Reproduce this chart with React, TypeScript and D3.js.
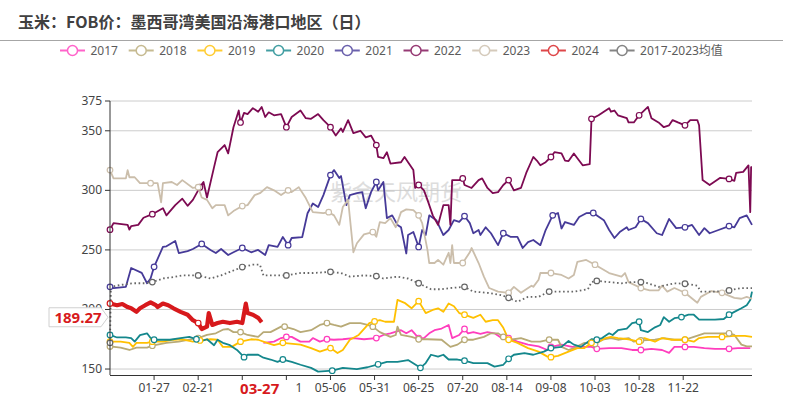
import React from "react";
import * as d3 from "d3";

type Pt = [number, number]; // [day of year (0 = 01-01), price]

// x-axis tick labels, one every 25 days from day 25
const xLabels = ["01-27", "02-21", "03-17", "04-11", "05-06", "05-31", "06-25", "07-20", "08-14", "09-08", "10-03", "10-28", "11-22"];
const yTicks = [150, 200, 250, 300, 350, 375];

const s2017: Pt[] = [[87,172],[93,173],[97,176],[100,177],[103,177],[108,173],[113,173],[115,176],[119,173],[123,175],[127,174.6],[132,175],[138,176],[144,175],[151,176],[155,178.6],[159,180],[165,182.6],[168,180],[171,182.6],[175,176],[178,176],[181,180],[184,182.6],[188,184],[192,187],[194,176],[198,178.6],[201,183.6],[203,180],[206,181],[210,179.5],[214,181],[218,180],[222,176],[226,176],[231,173],[237,170.5],[243,169],[248,166],[250,168.6],[256,170.5],[262,168.6],[267,168.6],[273,168.6],[276,167],[283,167.6],[290,167.6],[296,166],[301,166],[307,167],[313,166],[317,163.6],[320,168.6],[326,168.6],[331,168.6],[337,167.6],[343,167],[351,167],[356,167.6],[363,167.6]];

const s2018: Pt[] = [[0,169],[6,168],[11,166],[15,168],[21,168],[24,169.6],[32,172],[39,173],[45,174.6],[50,176],[55,178.6],[60,180],[64,183],[67,183.6],[70,181],[74,181],[78,178.6],[84,177],[87,181],[91,181],[97,185.6],[99,185.6],[104,183.6],[108,181],[114,182.6],[119,187],[123,188.6],[127,187],[131,185.6],[136,188.6],[142,188.6],[146,187],[149,185.6],[153,181],[159,177],[162,178.6],[163,185.6],[165,178.6],[171,177],[175,175],[180,175],[188,174.6],[193,168.6],[197,170.5],[201,174.6],[206,174.6],[212,177],[216,180],[220,180],[223,177],[227,174.6],[233,176],[239,173],[244,173],[249,174.6],[254,174.6],[256,168.6],[260,166],[263,167.6],[269,172],[275,171],[280,175],[284,176],[288,174.6],[294,176],[297,173],[301,174],[309,174.6],[314,176],[320,174.6],[326,174.6],[331,177],[337,180],[343,180],[351,180],[354,178.6],[358,170.5],[361,169],[364,169]];

const s2019: Pt[] = [[0,173],[6,173],[11,172],[13,168.6],[15,172],[21,172],[24,173],[30,173],[36,174.6],[41,175],[47,173],[51,174],[57,175],[61,174.6],[64,168.6],[69,168.6],[74,173],[80,175],[84,174.6],[89,172],[93,170],[98,172],[108,170.5],[114,167.6],[119,164.6],[125,167.6],[129,163.4],[132,166],[136,174.6],[141,178.6],[147,188.6],[150,190],[153,191],[156,189.7],[161,189.7],[163,208],[167,205.6],[171,201],[175,207],[179,197],[183,199.6],[186,201],[189,198],[192,205],[195,202.7],[198,197],[201,195.6],[204,194],[206,193],[210,195.6],[213,189.7],[217,191],[220,191],[223,184.6],[226,174.6],[231,172],[237,167.6],[243,164.6],[248,160.4],[250,160],[254,161],[260,164.6],[265,167.6],[269,167.6],[273,172],[277,173],[281,176],[284,177],[288,176],[294,175],[300,173],[303,176],[309,173],[313,176],[318,174.6],[326,174.6],[331,173],[334,176],[339,177],[347,177],[354,177.8],[360,177.8],[364,177]];

const s2020: Pt[] = [[0,178.6],[4,176.5],[9,176.5],[12,176],[14,173],[17,178.5],[21,180],[23,176],[25,174.6],[30,174.6],[34,174.6],[40,176],[45,177],[49,175],[51,173],[55,175],[59,170],[61,174.6],[64,172],[68,170],[72,166],[76,160],[78,162],[84,162],[87,159.5],[91,158],[95,156],[98,158],[103,156],[108,153.6],[114,151],[118,147.8],[126,148.6],[132,151],[140,150],[146,151.5],[152,154],[157,156],[163,156],[169,157.5],[176,151],[179,155],[182,162],[186,160.4],[189,162],[192,158],[197,158],[201,157],[206,155],[214,155],[218,152],[223,153.6],[226,158.6],[229,162],[235,163.4],[240,162],[246,164.6],[250,167.6],[256,168.6],[260,173.6],[263,170.5],[267,168.6],[273,175],[276,174.6],[279,176],[283,180],[285,178.6],[288,182.6],[293,184],[296,188.6],[300,189.7],[301,182.6],[305,181],[309,185],[312,187],[314,193.6],[317,189.7],[320,192.7],[324,193.6],[328,195.6],[331,195.6],[334,191.5],[339,191.5],[343,191.5],[348,192],[351,195.6],[354,198],[358,201],[361,203.6],[363,208],[364,215]];

const s2021: Pt[] = [[0,219],[2,218],[9,219],[12,234.8],[18,230.7],[21,222],[23,226],[25,235.8],[30,252.5],[32,253],[37,257.5],[39,247.4],[44,249],[47,250.8],[52,255],[57,250],[60,247.4],[63,250.8],[67,245.7],[70,248],[75,251.6],[80,248],[84,250],[88,245.7],[90,254],[95,252.5],[98,260.8],[101,254],[103,260],[109,260.8],[112,280.8],[115,289],[118,286],[121,296],[125,312.8],[127,317],[130,310.4],[131,312],[134,287.6],[136,296],[140,297.6],[143,298.5],[145,285],[148,298.5],[151,307],[152,300],[155,307],[157,276.7],[160,279],[163,271],[165,269],[168,247],[169,262.5],[172,265],[175,252.5],[177,266.7],[179,262.5],[181,279],[185,275],[189,262.5],[192,266.7],[195,275],[198,273.5],[201,278.4],[204,272.5],[206,264],[209,266.7],[210,262.5],[213,269],[216,264],[220,254],[223,264],[227,261],[231,261],[234,251.6],[237,256.6],[240,258.3],[244,254],[247,266.7],[251,279],[254,281],[256,268],[258,273.4],[263,271],[266,277.6],[270,280.8],[274,281],[280,275],[283,266.7],[286,260],[289,265],[293,269],[294,266.7],[298,269],[301,276],[305,272.5],[310,264],[313,262.5],[317,276],[321,268.3],[326,269],[330,271],[334,262.5],[337,268.3],[340,264],[345,266.7],[351,270],[354,269],[357,276.7],[361,279],[364,271]];

const s2022: Pt[] = [[0,267],[2,272.5],[10,271],[11,267],[12,270],[16,271],[19,277],[24,280],[30,285],[32,279],[37,287.6],[41,293],[44,287],[47,292],[51,302.7],[53,307],[55,294],[59,319.5],[61,332],[65,338],[67,331],[70,353],[73,367],[74,357],[76,365],[78,364],[81,369],[84,366],[86,370],[88,361.6],[90,365.5],[93,363],[97,364],[100,353],[103,361.6],[108,367],[111,360.6],[114,360],[118,364],[121,359],[125,353],[128,346],[131,352],[132,349],[135,359],[138,348],[142,350],[145,344.5],[148,346],[151,338],[152,328],[155,327],[157,332],[159,322.5],[165,323.6],[167,328],[169,323.6],[172,317],[173,302],[175,304.5],[178,300],[180,292],[183,279],[186,271],[189,287.6],[192,287.6],[193,271],[194,308.6],[198,308.6],[200,310],[201,304.5],[205,302],[209,308.6],[211,310],[214,302],[217,297.6],[220,298.5],[223,304.5],[226,308.6],[229,300],[233,302],[236,314.6],[240,328],[242,325],[244,321],[247,323.6],[250,328],[252,332],[256,331],[258,325],[260,324.6],[263,331],[265,327],[268,321],[272,322],[273,360],[277,363],[283,369],[284,366],[286,367],[288,363],[293,360.6],[294,357],[297,357],[300,363],[305,370],[307,360.6],[311,357],[314,353],[317,354.6],[319,359],[322,357],[326,354.6],[329,359],[333,359],[334,354.6],[336,308.6],[340,304.5],[346,310.5],[351,309.6],[354,308],[355,314.6],[359,315.5],[362,321],[363,281.7],[363.5,319.5],[364,319.5]];

const s2023: Pt[] = [[0,317],[2,310],[9,310],[10,317],[11,311],[14,311],[17,306],[23,306],[27,306],[29,290],[30,306],[35,307],[38,304.5],[41,308.6],[47,302],[50,302.7],[52,294],[55,292],[58,285],[60,287.6],[63,287.6],[65,287.6],[67,279],[70,282.6],[75,286.8],[78,287.6],[82,296],[85,297.6],[89,302.7],[93,300],[97,296],[101,300],[103,298.5],[107,302.7],[111,293.5],[115,281.7],[121,280.8],[124,281.7],[127,279],[130,271],[132,286],[135,292],[138,248],[140,255.6],[144,263],[149,265],[151,261],[153,273.4],[156,272.5],[159,276.7],[162,269],[165,281.7],[168,284],[172,283.4],[175,279],[177,272.5],[180,250],[181,239],[184,239],[186,241.6],[189,237.6],[192,247.6],[193,239],[194,254],[195,239],[200,239],[204,248],[205,251.6],[209,239],[212,227.6],[215,218],[220,215],[226,214],[229,219],[233,214],[239,220],[240,219],[243,225],[244,230.6],[250,230.6],[256,229],[260,226],[263,229],[265,240],[270,241.6],[275,237.6],[283,230.6],[290,227.6],[292,230.6],[294,223],[301,218],[306,216],[311,216],[313,220],[316,215],[320,218],[326,214],[333,205.6],[335,210.6],[341,215.5],[347,214],[354,209.8],[358,209],[361,210.6],[364,209]];

const s2024: Pt[] = [[0,205],[4,203.6],[7,204.6],[10,202],[12,201],[15,198],[17,201],[20,203.6],[23,206],[26,203.6],[27,202],[30,205],[33,203.6],[36,201],[40,198],[44,195.6],[47,191],[50,188.6],[52,183.6],[55,185.6],[56,197],[58,187],[61,188.6],[64,189.7],[68,188.6],[72,189.7],[75,188.6],[77,205],[78,197],[81,195.6],[84,193],[86,189.27]];

const sMean: Pt[] = [[0,172],[0.5,219],[6,220.6],[13,222],[20,222],[24,223],[30,226],[35,227],[41,228.6],[50,228.6],[57,226],[63,228.6],[68,231.6],[75,235.6],[81,237.6],[85,237.6],[87,228.6],[93,228.6],[100,228.6],[108,230.6],[115,230.6],[125,231.6],[131,230.6],[136,227.6],[144,228.6],[151,228],[155,226],[163,227.6],[169,226],[175,222],[182,217],[188,217],[193,218],[201,219],[206,215],[214,214],[222,212],[226,209.8],[231,206.5],[237,210.6],[243,210.6],[249,215],[256,215],[263,215],[271,217],[273,223],[276,224],[283,223],[290,222],[296,223],[301,223],[305,222],[311,219],[320,222],[326,221.6],[333,220],[335,215],[343,215],[351,216],[358,218],[364,218]];

const LATEST_DAY = 86;
const LATEST_LABEL = "03-27";
const LATEST_VALUE = 189.27;

const series = [
  { name: "2017", data: s2017, color: "#ff3dbd", width: 1.8, dash: "", marks: 25 },
  { name: "2018", data: s2018, color: "#b8aa76", width: 1.8, dash: "", marks: 25 },
  { name: "2019", data: s2019, color: "#ffc000", width: 1.8, dash: "", marks: 25 },
  { name: "2020", data: s2020, color: "#14878c", width: 1.8, dash: "", marks: 25 },
  { name: "2021", data: s2021, color: "#463a98", width: 1.8, dash: "", marks: 25 },
  { name: "2022", data: s2022, color: "#7d0a52", width: 1.8, dash: "", marks: 25 },
  { name: "2023", data: s2023, color: "#cbbeab", width: 1.8, dash: "", marks: 25 },
  { name: "2024", data: s2024, color: "#d7191c", width: 4.2, dash: "", marks: 50 },
  { name: "2017-2023均值", data: sMean, color: "#666666", width: 1.8, dash: "1.6 2.6", marks: 25 },
];

const FONT = "'Noto Sans', 'Noto Sans CJK SC', sans-serif";

export default function App() {
  const W = 794;
  const H = 400;
  const x = d3.scaleLinear().domain([0, 364]).range([110, 752]);
  const y = d3.scaleLinear().domain([145, 375]).range([375, 101]);
  const line = d3
    .line<Pt>()
    .x((d) => x(d[0]))
    .y((d) => y(d[1]));

  const tickDays = xLabels.map((_, i) => 25 + 25 * i);
  const markDays = d3.range(0, 364, 25);

  const markers = (s: (typeof series)[number]) => {
    const out: Pt[] = [];
    markDays
      .filter((m) => m % s.marks === 0)
      .forEach((m) => {
        const near = s.data.reduce((a, b) => (Math.abs(b[0] - m) < Math.abs(a[0] - m) ? b : a));
        if (Math.abs(near[0] - m) <= 3) out.push(near);
      });
    return out;
  };

  const ly = y(LATEST_VALUE) - 5;
  const lx = x(LATEST_DAY);
  // the latest-date label box hides the tick labels under it
  const boxL = lx - 37;
  const boxR = lx + 33;

  return (
    <>
      <style>{"body{margin:0}"}</style>
      <svg width={W} height={H} style={{ display: "block", background: "#fff" }} fontFamily={FONT}>
        <text x={18} y={28} fontSize={16} fontWeight={700} fill="#404040" fontFamily="'Noto Sans CJK SC', sans-serif">
          玉米：FOB价：墨西哥湾美国沿海港口地区（日）
        </text>
        <line x1={0} x2={783} y1={40.5} y2={40.5} stroke="#a6a6a6" strokeWidth={1} />

        {/* legend */}
        {series.map((s, i) => {
          const lx0 = 60 + i * 68.7;
          return (
            <g key={s.name} opacity={0.8}>
              <line x1={lx0} x2={lx0 + 25} y1={50.5} y2={50.5} stroke={s.color} strokeWidth={2} />
              <circle cx={lx0 + 12.5} cy={50.5} r={5} fill="#fff" stroke={s.color} strokeWidth={1.5} />
              <text x={lx0 + 30.5} y={55} fontSize={12} fill="#333">
                {s.name}
              </text>
            </g>
          );
        })}

        {/* grid */}
        {yTicks.map((t) => (
          <line key={t} x1={110} x2={752} y1={y(t)} y2={y(t)} stroke="#cccccc" strokeWidth={1} />
        ))}

        <text x={330} y={200} fontSize={22} fill="#c8c8c8" opacity={0.6} fontFamily="'Noto Sans CJK SC', sans-serif">
          紫金天风期货
        </text>

        {/* series */}
        {series.map((s) => (
          <path
            key={s.name}
            d={line(s.data) ?? ""}
            fill="none"
            stroke={s.color}
            strokeWidth={s.width}
            strokeDasharray={s.dash || undefined}
            strokeLinejoin="round"
          />
        ))}
        {series.map((s) =>
          markers(s).map((p, j) => (
            <circle key={s.name + j} cx={x(p[0])} cy={y(p[1])} r={2.8} fill="#fff" stroke={s.color} strokeWidth={1.2} />
          ))
        )}

        {/* axes */}
        <line x1={110} x2={110} y1={101} y2={375} stroke="#333" strokeWidth={1} />
        <line x1={110} x2={752} y1={375.5} y2={375.5} stroke="#333" strokeWidth={1} />
        {yTicks.map((t) => (
          <g key={t}>
            <line x1={105} x2={110} y1={y(t)} y2={y(t)} stroke="#333" />
            <text x={102} y={y(t) + 4} fontSize={12} textAnchor="end" fill="#444">
              {t}
            </text>
          </g>
        ))}
        {tickDays.map((d, i) => {
          const label = xLabels[i];
          const halfW = 16;
          const left = x(d) - halfW;
          const right = x(d) + halfW;
          const hidden = left >= boxL - 2 && right <= boxR;
          const partly = !hidden && left < boxR && right > boxR;
          return (
            <g key={d}>
              <line x1={x(d)} x2={x(d)} y1={375} y2={380} stroke="#333" />
              {partly ? (
                <text x={right} y={392} fontSize={12} textAnchor="end" fill="#444">
                  {label.slice(-1)}
                </text>
              ) : hidden ? null : (
                <text x={x(d)} y={392} fontSize={12} textAnchor="middle" fill="#444">
                  {label}
                </text>
              )}
            </g>
          );
        })}

        {/* latest date label */}
        <rect x={boxL} y={380.5} width={boxR - boxL} height={19} fill="#fff" />
        <text x={lx - 2} y={394} fontSize={15} fontWeight={700} textAnchor="middle" fill="#d7191c">
          {LATEST_LABEL}
        </text>

        {/* latest value label */}
        <path
          d={`M49,${ly - 9.5}H101L108,${ly}L101,${ly + 9.5}H49Z`}
          fill="#fff"
          stroke="#d0d0d0"
          strokeWidth={1}
        />
        <text x={78} y={ly + 5.5} fontSize={15} fontWeight={700} textAnchor="middle" fill="#d7191c">
          {LATEST_VALUE.toFixed(2)}
        </text>
      </svg>
    </>
  );
}
